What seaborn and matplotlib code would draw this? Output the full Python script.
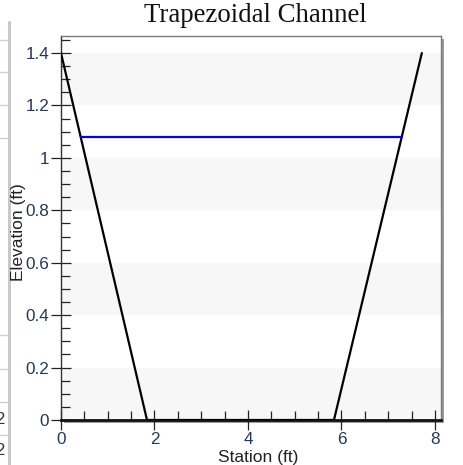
import matplotlib
matplotlib.use("Agg")
import matplotlib.pyplot as plt
from matplotlib.patches import Rectangle
from matplotlib.lines import Line2D
from matplotlib.ticker import MultipleLocator, FuncFormatter
import seaborn as sns
import pandas as pd

# Channel cross-section (station, elevation) in ft
station = [0.0, 1.84, 5.84, 7.72]
elevation = [1.4, 0.0, 0.0, 1.4]

# Water surface
water_station = [0.43, 7.29]
water_elev = [1.08, 1.08]

x_ticks = [0, 2, 4, 6, 8]
y_ticks = [0, 0.2, 0.4, 0.6, 0.8, 1.0, 1.2, 1.4]
band_bottoms = [0.0, 0.4, 0.8, 1.2]

sns.set_theme(style="white")
plt.rcParams["font.family"] = ["Liberation Sans", "DejaVu Sans"]

fig = plt.figure(figsize=(4.64, 4.65), dpi=100)
W, H = 464, 465
left, right, bottom, top = 61, 441, 420, 36

# surrounding table edge at the left margin
fig.add_artist(Line2D([9.5 / W, 9.5 / W], [0, 1 - 22 / H], transform=fig.transFigure,
                      color="#c8c8c8", lw=2.2, zorder=0))
for yy in [40, 72, 105, 138, 335, 369, 402, 435]:
    fig.add_artist(Line2D([0, 8 / W], [1 - yy / H, 1 - yy / H], transform=fig.transFigure,
                          color="#d0d0d0", lw=1.0, zorder=0))

ax = fig.add_axes([left / W, 1 - bottom / H, (right - left) / W, (bottom - top) / H])

# frame shadow
shadow = Rectangle(((left + 3) / W, 1 - (bottom + 3) / H), (right - left) / W, (bottom - top) / H,
                   transform=fig.transFigure, facecolor="#9a9a9a", edgecolor="none", zorder=0)
fig.patches.append(shadow)
ax.set_zorder(1)

ax.set_xlim(0, 8.13)
ax.set_ylim(0, 1.465)
ax.set_facecolor("white")

for b in band_bottoms:
    ax.axhspan(b, b + 0.2, color="#f7f7f7", lw=0, zorder=0)

channel = pd.DataFrame({"Station": station, "Elevation": elevation})
water = pd.DataFrame({"Station": water_station, "Elevation": water_elev})

sns.lineplot(data=channel, x="Station", y="Elevation", sort=False, estimator=None,
             color="black", lw=1.6, ax=ax, zorder=3)
sns.lineplot(data=water, x="Station", y="Elevation", sort=False, estimator=None,
             color="#0000ff", lw=1.6, ax=ax, zorder=3)

ax.set_xticks(x_ticks)
ax.set_yticks(y_ticks)
ax.xaxis.set_minor_locator(MultipleLocator(0.5))
ax.yaxis.set_minor_locator(MultipleLocator(0.05))
fmt = FuncFormatter(lambda v, p: f"{v:g}")
ax.xaxis.set_major_formatter(fmt)
ax.yaxis.set_major_formatter(fmt)

label_color = "#22385a"
ax.tick_params(axis="both", which="major", direction="inout", length=15, width=0.9,
               color="#222222", labelsize=12.3, labelcolor=label_color, pad=1)
ax.tick_params(axis="both", which="minor", direction="in", length=6.5, width=0.9,
               color="#222222")
ax.tick_params(bottom=True, left=True, which="both")

for side in ["top", "right"]:
    ax.spines[side].set_color("#7a7a7a")
    ax.spines[side].set_linewidth(1.0)
ax.spines["left"].set_color("#333333")
ax.spines["left"].set_linewidth(1.0)
ax.spines["bottom"].set_color("#111111")
ax.spines["bottom"].set_linewidth(2.0)

ax.set_xlabel("Station (ft)", fontsize=12.5, color="#222222")
ax.set_ylabel("Elevation (ft)", fontsize=12.5, color="#222222")
ax.xaxis.set_label_coords(0.518, -0.078)
ax.yaxis.set_label_coords(-0.093, 0.49)

fig.text(255 / W, 1 - 15 / H, "Trapezoidal Channel", ha="center", va="center",
         fontsize=19.3, family=["Liberation Serif", "DejaVu Serif"], color="#111111")

for yy in [419, 450]:
    fig.text(4 / W, 1 - yy / H, "2", ha="right", va="center", fontsize=12, color="#333333")

fig.savefig("out.png", dpi=100)
